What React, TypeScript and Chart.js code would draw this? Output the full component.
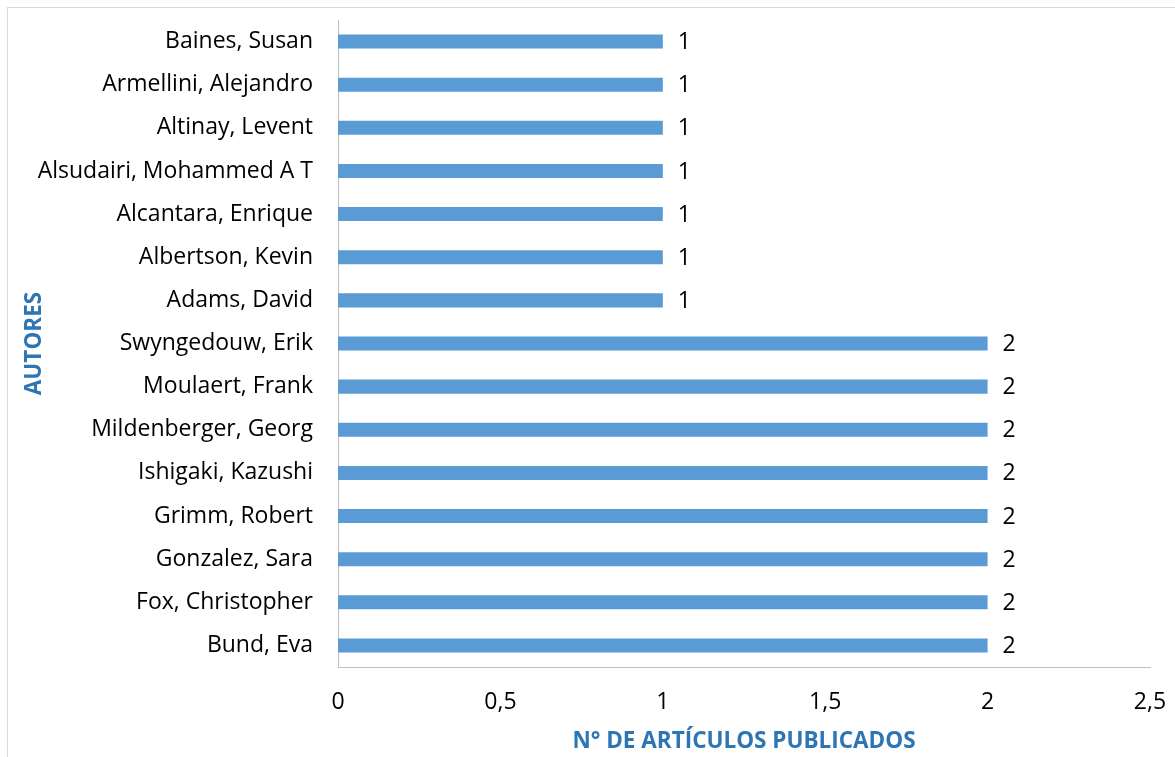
import React, { useEffect, useRef } from "react";
import { Chart, registerables } from "chart.js";

Chart.register(...registerables);

const authors = [
  "Baines, Susan",
  "Armellini, Alejandro",
  "Altinay, Levent",
  "Alsudairi, Mohammed A T",
  "Alcantara, Enrique",
  "Albertson, Kevin",
  "Adams, David",
  "Swyngedouw, Erik",
  "Moulaert, Frank",
  "Mildenberger, Georg",
  "Ishigaki, Kazushi",
  "Grimm, Robert",
  "Gonzalez, Sara",
  "Fox, Christopher",
  "Bund, Eva",
];

const articles = [1, 1, 1, 1, 1, 1, 1, 2, 2, 2, 2, 2, 2, 2, 2];

const xAxisTitle = "N° DE ARTÍCULOS PUBLICADOS";
const yAxisTitle = "AUTORES";

const FONT = "'Open Sans', Lato, sans-serif";

const valueLabels = {
  id: "valueLabels",
  afterDatasetsDraw(chart: any) {
    const ctx = chart.ctx;
    const meta = chart.getDatasetMeta(0);
    ctx.save();
    ctx.font = `23px ${FONT}`;
    ctx.fillStyle = "#000000";
    ctx.textAlign = "left";
    ctx.textBaseline = "middle";
    meta.data.forEach((bar: any, i: number) => {
      ctx.fillText(String(chart.data.datasets[0].data[i]), bar.x + 15, bar.y + 1);
    });
    ctx.restore();
  },
};

export default function App() {
  const canvasRef = useRef<HTMLCanvasElement>(null);

  useEffect(() => {
    document.body.style.margin = "0";
    const chart = new Chart(canvasRef.current!, {
      type: "bar",
      data: {
        labels: authors,
        datasets: [
          {
            data: articles,
            backgroundColor: "#5B9BD5",
            borderWidth: 0,
            barPercentage: 0.65,
            categoryPercentage: 0.5,
          },
        ],
      },
      options: {
        indexAxis: "y",
        animation: false,
        responsive: true,
        maintainAspectRatio: false,
        layout: { padding: { top: 20, right: 25, left: 0, bottom: 0 } },
        plugins: {
          legend: { display: false },
          tooltip: { enabled: false },
        },
        scales: {
          x: {
            min: 0,
            max: 2.5,
            ticks: {
              stepSize: 0.5,
              color: "#000000",
              padding: 22,
              font: { family: FONT, size: 23 },
              callback: (v: any) => String(v).replace(".", ","),
            },
            grid: { display: false, drawTicks: false },
            border: { display: true, color: "#BFBFBF", width: 1 },
            title: {
              display: true,
              text: xAxisTitle,
              color: "#2E75B6",
              font: { family: FONT, size: 22.5, weight: "bold" },
              padding: { top: 0, bottom: 1.5 },
            },
            afterFit: (scale: any) => {
              scale.height = 90;
              scale.paddingLeft = 0;
              scale.paddingRight = 0;
            },
          },
          y: {
            ticks: {
              color: "#000000",
              padding: 25,
              font: { family: FONT, size: 23 },
            },
            grid: { display: false, drawTicks: false },
            border: { display: true, color: "#BFBFBF", width: 1 },
            title: {
              display: true,
              text: yAxisTitle,
              color: "#2E75B6",
              font: { family: FONT, size: 22.5, weight: "bold" },
              padding: { top: 21.5, bottom: 0 },
            },
            afterFit: (scale: any) => {
              scale.width = 338;
              scale.paddingTop = 0;
              scale.paddingBottom = 0;
            },
          },
        },
      },
      plugins: [valueLabels],
    });
    return () => chart.destroy();
  }, []);

  return (
    <div style={{ position: "fixed", left: 0, top: 0, width: 1175, height: 757, background: "#fff" }}>
      <div
        style={{
          position: "absolute",
          left: 7,
          top: 7,
          right: 0,
          bottom: 0,
          borderLeft: "1px solid #D9D9D9",
          borderTop: "1px solid #D9D9D9",
        }}
      />
      <canvas ref={canvasRef} style={{ position: "absolute", left: 0, top: 0 }} />
    </div>
  );
}
